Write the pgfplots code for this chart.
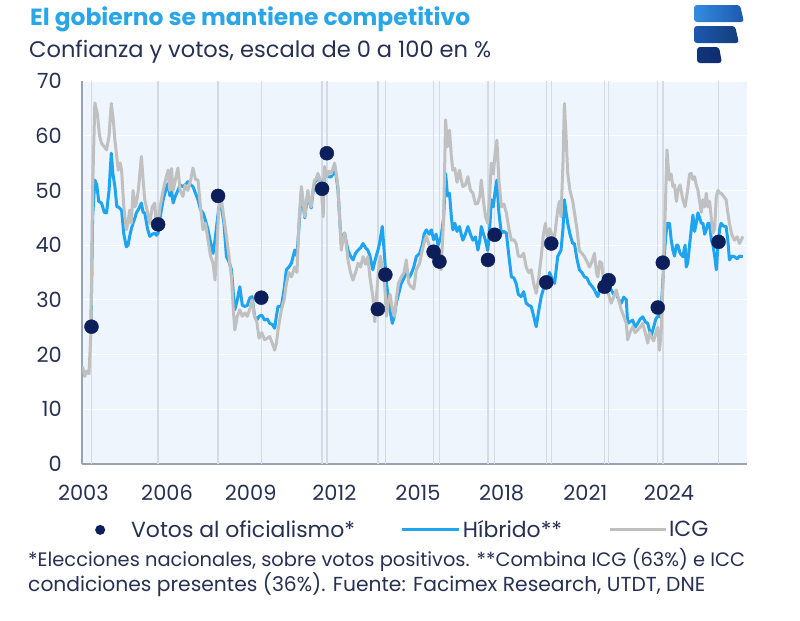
\documentclass[border=0pt]{standalone}
\usepackage{fontspec}
\setmainfont{Poppins}
\usepackage{pgfplots}
\pgfplotsset{compat=1.18}
\usepackage{graphicx}
\definecolor{titleblue}{RGB}{42,165,230}
\definecolor{navytext}{RGB}{38,48,82}
\definecolor{dotnavy}{RGB}{12,31,91}
\definecolor{hib}{RGB}{30,164,240}
\definecolor{icg}{RGB}{192,192,192}
\definecolor{bgblue}{RGB}{238,245,252}
\definecolor{vgrid}{RGB}{212,219,230}
\definecolor{axisline}{RGB}{151,163,186}
\definecolor{logoA}{RGB}{52,140,222}
\definecolor{logoB}{RGB}{28,88,175}
\definecolor{logoC}{RGB}{14,45,110}
\begin{document}
\begin{tikzpicture}
\useasboundingbox (0,0) rectangle (800bp,-621bp);
% titles
\node[anchor=base west, inner sep=0pt, text=titleblue] at (30bp,-25bp) {\resizebox{440bp}{!}{\bfseries El gobierno se mantiene competitivo}};
\node[anchor=base west, inner sep=0pt, text=navytext] at (29bp,-57bp) {\resizebox{462bp}{!}{Confianza y votos, escala de 0 a 100 en \%}};
% logo
\shade[left color=logoA, right color=logoB, rounded corners=3bp] (694bp,-5bp) -- (740bp,-5bp) -- (744bp,-22bp) -- (694bp,-22bp) -- cycle;
\shade[left color=logoB, right color=logoB!70!black, rounded corners=3bp] (694bp,-26bp) -- (735bp,-26bp) -- (739bp,-43bp) -- (694bp,-43bp) -- cycle;
\shade[left color=logoC!80!logoB, right color=logoC, rounded corners=3bp] (697bp,-47bp) -- (719bp,-47bp) -- (722bp,-63bp) -- (697bp,-63bp) -- cycle;
\begin{axis}[
  at={(82bp,-464bp)}, anchor=south west,
  scale only axis, width=665bp, height=383bp,
  xmin=2002.95, xmax=2026.8, ymin=0, ymax=70,
  axis background/.style={fill=bgblue},
  axis x line*=bottom, axis y line*=left,
  axis line style={draw=axisline, line width=2bp, -},
  xtick={2003,2006,2009,2012,2015,2018,2021,2024},
  ytick={0,10,20,30,40,50,60,70},
  major tick length=0pt,
  tick style={draw=none},
  ymajorgrids, major grid style={white, line width=1.2bp},
  extra x ticks={2003.29,2005.68,2007.83,2009.38,2011.56,2011.73,2013.56,2013.83,2015.56,2015.77,2017.51,2017.75,2019.6,2019.78,2021.69,2021.84,2023.6,2023.78,2025.78},
  extra x tick labels={},
  extra x tick style={grid=major, major grid style={vgrid, line width=1.4bp}, tick style={draw=none}},
  /pgf/number format/assume math mode=true,
  /pgf/number format/1000 sep={},
  ticklabel style={font=\fontsize{21}{25}\selectfont, text=navytext},
  xticklabel style={anchor=north, inner sep=0pt, yshift=-21bp},
  yticklabel style={anchor=east, inner sep=0pt, xshift=-20bp},
  legend style={draw=none, fill=none, at={(axis description cs:0.0195,-0.172)}, anchor=west,
    font=\fontsize{22}{26}\selectfont, text=navytext, inner sep=0pt,
    /tikz/every even column/.append style={column sep=44bp}},
  legend columns=3,
]
\addlegendimage{draw=none, legend image code/.code={\path[draw=none] (0bp,0) -- (34bp,0); \fill[dotnavy, draw=none] (5bp,0) circle (5bp);}}
\addlegendentry{Votos al oficialismo*}
\addlegendimage{legend image code/.code={\draw[hib, line width=3bp] (0,0) -- (57bp,0);}}
\addlegendentry{Híbrido**}
\addlegendimage{legend image code/.code={\draw[icg, line width=3bp] (0,0) -- (56bp,0);}}
\addlegendentry{ICG}
% Hibrido
\addplot[forget plot, hib, line width=3bp, line join=round] coordinates {
(2003.27,24)(2003.33,45)(2003.41,51.9)(2003.48,51)(2003.55,48)(2003.65,47.7)(2003.75,46)(2003.83,45.9)(2003.92,50)(2004.0,56.8)
(2004.06,53)(2004.13,50.7)(2004.2,47)(2004.25,47)(2004.37,46.4)(2004.45,42)(2004.54,39.7)(2004.6,40)(2004.66,41.6)(2004.72,43)
(2004.78,44)(2004.85,45)(2004.9,45.9)(2004.97,46.5)(2005.08,47.7)(2005.14,46)(2005.2,45.9)(2005.3,43)(2005.38,41.6)(2005.47,42)
(2005.56,42.2)(2005.62,41.8)(2005.68,42.2)(2005.75,45)(2005.86,48.3)(2005.95,50)(2006.04,51.3)(2006.1,49)(2006.16,50)(2006.22,47.7)
(2006.3,49)(2006.39,50)(2006.47,51)(2006.57,50.7)(2006.65,51)(2006.75,51.6)(2006.85,51)(2006.93,50.7)(2007.02,49.5)(2007.11,48.3)
(2007.2,46.5)(2007.29,45.9)(2007.38,44.5)(2007.47,42.8)(2007.56,40.5)(2007.65,38.5)(2007.72,40.9)(2007.79,44)(2007.86,47)(2007.95,47)
(2008.04,44)(2008.13,37.9)(2008.22,37)(2008.31,35.5)(2008.38,31)(2008.43,28.2)(2008.52,30)(2008.61,32.4)(2008.7,29)(2008.79,28.8)
(2008.88,29)(2008.96,30.3)(2009.05,30.6)(2009.14,27)(2009.22,26.3)(2009.3,27)(2009.4,27.2)(2009.5,26.3)(2009.6,26.5)(2009.68,25.7)
(2009.78,25.5)(2009.86,24.8)(2009.92,27)(2009.98,28.8)(2010.1,28.8)(2010.2,32)(2010.28,35.5)(2010.37,36)(2010.46,36.7)(2010.58,39.1)
(2010.66,38)(2010.74,44)(2010.82,50)(2010.88,47.5)(2010.94,45)(2011.0,47.5)(2011.05,49.5)(2011.11,47.8)(2011.17,46.8)(2011.23,49.5)
(2011.29,51.5)(2011.35,51.8)(2011.41,52.8)(2011.48,52)(2011.55,50)(2011.6,48)(2011.65,53.7)(2011.72,53)(2011.8,52.5)(2011.89,52.5)
(2011.95,53)(2012.01,54)(2012.07,52.5)(2012.13,50.2)(2012.19,45)(2012.25,40)(2012.31,41.5)(2012.37,42.2)(2012.43,40.5)(2012.49,39.1)
(2012.58,38)(2012.67,37.3)(2012.76,38.5)(2012.85,39.1)(2012.94,39.5)(2013.03,40.3)(2013.12,39.5)(2013.2,39.1)(2013.28,38)(2013.38,35.5)
(2013.45,37)(2013.5,38)(2013.56,39)(2013.62,40.3)(2013.72,43.4)(2013.8,38)(2013.87,33)(2013.92,31)(2014.0,28)(2014.08,25.7)
(2014.15,27)(2014.22,29.4)(2014.3,31)(2014.4,33)(2014.5,34)(2014.58,35.5)(2014.67,34)(2014.76,34.8)(2014.85,36)(2014.94,37.9)
(2015.06,38.5)(2015.15,40)(2015.22,42)(2015.3,42.8)(2015.4,42)(2015.48,42.8)(2015.56,41)(2015.65,42)(2015.72,40)(2015.83,41.6)
(2015.92,45)(2015.99,53.1)(2016.06,49)(2016.13,49.5)(2016.2,45)(2016.25,42.8)(2016.32,44)(2016.4,42.5)(2016.49,43.4)(2016.55,42)
(2016.61,40.9)(2016.7,42)(2016.79,43.4)(2016.88,42)(2016.97,40.9)(2017.06,41.5)(2017.15,39.1)(2017.22,41)(2017.27,43.4)(2017.35,42)
(2017.42,40.9)(2017.5,39)(2017.56,42)(2017.63,48.3)(2017.7,47)(2017.77,50)(2017.83,51.9)(2017.9,46)(2017.99,42.2)(2018.08,42.5)
(2018.17,42.2)(2018.26,38)(2018.35,34.2)(2018.44,34)(2018.52,33)(2018.6,31)(2018.7,30.6)(2018.79,31.5)(2018.88,29.4)(2018.97,29)
(2019.06,28.8)(2019.15,27)(2019.24,25.1)(2019.33,28)(2019.42,30.6)(2019.5,32)(2019.57,34)(2019.65,33)(2019.72,35)(2019.8,34)
(2019.9,33)(2020.01,37.9)(2020.07,38.5)(2020.13,39.1)(2020.2,43)(2020.25,48.3)(2020.31,46)(2020.37,44)(2020.45,42)(2020.55,40.3)
(2020.61,40.3)(2020.7,37.5)(2020.79,35.5)(2020.88,35)(2020.97,34.2)(2021.06,34)(2021.15,33)(2021.24,32.5)(2021.33,31.8)(2021.4,31)
(2021.45,30.6)(2021.52,32)(2021.59,33)(2021.66,32)(2021.75,32.5)(2021.84,32.5)(2021.93,31.8)(2022.02,31)(2022.11,31.2)(2022.2,30)
(2022.29,29.4)(2022.38,30.5)(2022.47,30)(2022.52,25.7)(2022.6,26)(2022.7,26.3)(2022.79,25)(2022.88,25.7)(2022.97,26.5)(2023.06,26.9)
(2023.15,26)(2023.24,25.7)(2023.3,24.5)(2023.36,23.3)(2023.45,25)(2023.53,26.5)(2023.6,27)(2023.66,26.9)(2023.72,28)(2023.8,35)
(2023.86,40)(2023.93,44)(2024.02,44)(2024.08,41)(2024.14,39.1)(2024.2,38)(2024.27,40)(2024.32,40)(2024.4,38.5)(2024.5,37.9)
(2024.58,40)(2024.62,36)(2024.67,36.7)(2024.74,40)(2024.8,42.8)(2024.86,45.5)(2024.92,42.5)(2024.98,44)(2025.04,45.9)(2025.1,45)
(2025.16,44)(2025.22,44)(2025.28,42)(2025.34,42.8)(2025.4,44)(2025.46,44)(2025.52,41)(2025.58,40)(2025.64,38)(2025.7,35.5)
(2025.76,40)(2025.82,43)(2025.87,44)(2025.95,43.5)(2026.05,43.4)(2026.11,41)(2026.17,37.3)(2026.25,38)(2026.35,37.9)(2026.45,37.5)
(2026.53,38)(2026.65,37.9)
};
% ICG
\addplot[forget plot, icg, line width=3bp, line join=round] coordinates {
(2002.97,17.8)(2003.05,16)(2003.12,17)(2003.2,16.5)(2003.27,24)(2003.33,50)(2003.41,66)(2003.5,64)(2003.58,60)(2003.65,58.6)
(2003.75,58)(2003.83,57.4)(2003.92,60)(2004.0,65.9)(2004.07,63)(2004.13,59.2)(2004.25,53.7)(2004.32,55)(2004.37,53.7)(2004.45,47)
(2004.54,42.8)(2004.6,44)(2004.66,46.4)(2004.72,44)(2004.78,50)(2004.85,47)(2004.9,47.7)(2004.97,50)(2005.08,56.2)(2005.14,52)
(2005.2,48.3)(2005.3,46)(2005.38,44)(2005.47,47)(2005.56,47.7)(2005.62,43)(2005.68,44)(2005.75,47)(2005.86,50)(2005.95,52)
(2006.04,53.7)(2006.1,50)(2006.16,54)(2006.22,50)(2006.3,52)(2006.39,54.1)(2006.47,50)(2006.57,48.9)(2006.65,51)(2006.75,50)
(2006.85,52)(2006.93,54.1)(2007.02,52)(2007.11,51.9)(2007.2,47)(2007.29,42.8)(2007.38,44)(2007.47,40.9)(2007.56,38)(2007.65,36.7)
(2007.72,33.6)(2007.79,40)(2007.86,47)(2007.95,48.3)(2008.04,45)(2008.13,41.6)(2008.22,38)(2008.31,34.2)(2008.38,28)(2008.43,24.5)
(2008.52,27)(2008.61,28.2)(2008.7,27)(2008.79,27.6)(2008.88,27)(2008.96,28.2)(2009.05,30)(2009.14,26.9)(2009.22,26)(2009.3,23)
(2009.4,24)(2009.5,22.7)(2009.6,23)(2009.68,23.3)(2009.78,22)(2009.86,20.8)(2009.92,22)(2009.98,24.5)(2010.1,28.2)(2010.2,30)
(2010.28,33)(2010.37,35)(2010.46,34.2)(2010.58,36)(2010.66,35)(2010.74,45)(2010.82,50.7)(2010.88,48)(2010.94,45.2)(2011.0,48)
(2011.05,50)(2011.11,48)(2011.17,47)(2011.23,50)(2011.29,51.9)(2011.35,52)(2011.41,53.1)(2011.48,52)(2011.55,49)(2011.6,45.2)
(2011.65,54.4)(2011.72,52.5)(2011.8,53.5)(2011.89,53.1)(2011.95,54)(2012.01,55)(2012.07,53)(2012.13,50.7)(2012.19,45)(2012.25,39.1)
(2012.31,41)(2012.37,42.2)(2012.43,40)(2012.49,37.3)(2012.58,35)(2012.67,33.6)(2012.76,35)(2012.85,36.7)(2012.94,36)(2013.03,37.9)
(2013.12,36.5)(2013.2,37.9)(2013.28,34)(2013.38,30.6)(2013.45,26)(2013.5,30)(2013.58,35)(2013.65,38)(2013.72,36)(2013.8,33)
(2013.87,27)(2013.92,29.4)(2014.0,31)(2014.08,28.2)(2014.15,27)(2014.22,30)(2014.3,33)(2014.4,34.2)(2014.5,35)(2014.58,37.3)
(2014.67,33)(2014.76,32.4)(2014.85,32)(2014.94,35.5)(2015.06,36.7)(2015.15,39)(2015.25,41)(2015.3,41.6)(2015.4,40)(2015.48,39.7)
(2015.56,37)(2015.65,38)(2015.72,36.5)(2015.83,35.5)(2015.92,45)(2015.99,62.9)(2016.06,58)(2016.13,61)(2016.2,56)(2016.25,53.7)
(2016.32,54)(2016.4,51.5)(2016.49,53.7)(2016.55,52)(2016.61,50.7)(2016.7,51)(2016.79,52.5)(2016.88,50)(2016.97,49.5)(2017.06,47.5)
(2017.15,47.7)(2017.22,49)(2017.27,51.9)(2017.35,48)(2017.42,45.2)(2017.5,44)(2017.56,48)(2017.63,55)(2017.7,53)(2017.77,57)
(2017.83,59.2)(2017.9,52)(2017.99,47)(2018.08,47.5)(2018.17,45.9)(2018.26,43)(2018.35,40.9)(2018.44,41)(2018.52,40.3)(2018.6,38)
(2018.7,37.9)(2018.79,38.5)(2018.88,36)(2018.97,35)(2019.06,35.5)(2019.15,33)(2019.24,31.2)(2019.33,34)(2019.42,37.9)(2019.5,42)
(2019.57,44)(2019.65,41)(2019.72,43)(2019.8,42)(2019.9,41.6)(2020.01,46.4)(2020.07,48)(2020.13,45.2)(2020.2,55)(2020.25,65.9)
(2020.31,60)(2020.37,53.1)(2020.45,50)(2020.55,48)(2020.61,46)(2020.7,43)(2020.79,39)(2020.88,38.5)(2020.97,37.9)(2021.06,37)
(2021.15,36)(2021.24,37)(2021.33,38.5)(2021.4,35)(2021.45,34.2)(2021.52,37)(2021.59,36.7)(2021.66,33)(2021.75,32)(2021.84,31)
(2021.93,29.4)(2022.02,30.5)(2022.11,31.8)(2022.2,30)(2022.29,28.2)(2022.38,27)(2022.47,25.7)(2022.52,22.7)(2022.6,24)(2022.7,25.1)
(2022.79,24)(2022.88,24.5)(2022.97,25)(2023.06,25.7)(2023.15,24)(2023.24,22.1)(2023.3,24)(2023.36,23.3)(2023.45,22.5)(2023.53,24)
(2023.6,25)(2023.66,20.8)(2023.72,24)(2023.8,35)(2023.86,45)(2023.93,57.4)(2023.98,54)(2024.02,51.9)(2024.08,53)(2024.14,50.7)
(2024.2,51)(2024.27,48)(2024.32,50)(2024.4,51)(2024.5,48.3)(2024.58,47)(2024.67,50)(2024.74,53)(2024.8,53.1)(2024.86,52)
(2024.92,52.5)(2024.98,51)(2025.04,50)(2025.1,48)(2025.16,46)(2025.22,48.3)(2025.28,47)(2025.34,49.5)(2025.4,47)(2025.46,48)
(2025.52,45)(2025.58,42.2)(2025.64,43)(2025.7,49)(2025.76,50)(2025.82,49.5)(2025.87,49.5)(2025.95,49)(2026.05,48.3)(2026.11,46)
(2026.17,44)(2026.25,42)(2026.35,40.9)(2026.45,41.5)(2026.53,40.3)(2026.6,41)(2026.65,41.6)
};
% votos
\addplot[forget plot, only marks, mark=*, mark size=7bp, mark options={fill=dotnavy, draw=dotnavy}] coordinates {
(2003.29,25.1)(2005.68,43.8)(2007.83,49.0)(2009.38,30.4)(2011.56,50.3)(2011.73,56.8)(2013.56,28.3)(2013.83,34.6)
(2015.56,38.8)(2015.77,37.0)(2017.51,37.3)(2017.75,41.9)(2019.6,33.2)(2019.78,40.3)(2021.69,32.4)(2021.84,33.6)
(2023.6,28.6)(2023.78,36.8)(2025.78,40.6)
};
\end{axis}
% footnotes
\node[anchor=base west, inner sep=0pt, text=navytext] at (28bp,-566bp) {\resizebox{717bp}{!}{*Elecciones nacionales, sobre votos positivos. **Combina ICG (63\%) e ICC}};
\node[anchor=base west, inner sep=0pt, text=navytext] at (28bp,-591bp) {\resizebox{677bp}{!}{condiciones presentes (36\%). Fuente: Facimex Research, UTDT, DNE}};
\end{tikzpicture}
\end{document}
